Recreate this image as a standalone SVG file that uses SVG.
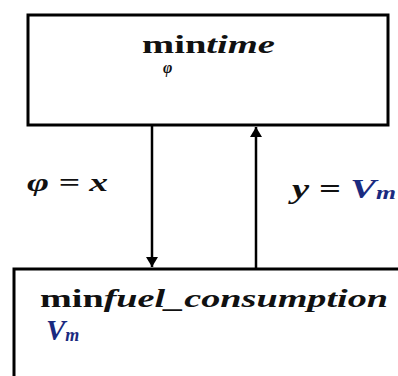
<svg xmlns="http://www.w3.org/2000/svg" width="398" height="376" viewBox="0 0 398 376">
<style>
.box{fill:#fff;stroke:#000;stroke-width:3}
.ln{stroke:#000;stroke-width:2.5;fill:none}
text{font-family:"Liberation Serif","DejaVu Serif",serif;font-weight:bold;fill:#111}
.it{font-style:italic}
.v{fill:#1a2a80;font-style:italic}
</style>
<defs>
<marker id="ah" markerWidth="10" markerHeight="12" refX="10" refY="6" orient="auto" markerUnits="userSpaceOnUse">
<path d="M0,0 L10,6 L0,12 Z" fill="#000"/>
</marker>
</defs>
<g id="node-top">
<rect class="box" x="28" y="15" width="360" height="110"/>
<text x="142" y="53" font-size="25" textLength="133" lengthAdjust="spacingAndGlyphs">min<tspan class="it">time</tspan></text>
<text x="163" y="73" font-size="16" class="it">φ</text>
</g>
<g id="node-bottom">
<rect class="box" x="14" y="269" width="400" height="120"/>
<text x="40" y="307" font-size="26" textLength="348" lengthAdjust="spacingAndGlyphs">min<tspan class="it">fuel_consumption</tspan></text>
<text x="46" y="340" font-size="29" class="v">V<tspan font-size="18" dy="1">m</tspan></text>
</g>
<g id="connectors">
<line class="ln" x1="152" y1="126" x2="152" y2="267" marker-end="url(#ah)"/>
<line class="ln" x1="256" y1="268" x2="256" y2="127" marker-end="url(#ah)"/>
<text x="27" y="191" font-size="25" class="it" textLength="81" lengthAdjust="spacingAndGlyphs">φ = x</text>
<text x="292" y="198" font-size="27" class="it" textLength="104" lengthAdjust="spacingAndGlyphs">y = <tspan class="v">V<tspan font-size="18" dy="1">m</tspan></tspan></text>
</g>
</svg>
